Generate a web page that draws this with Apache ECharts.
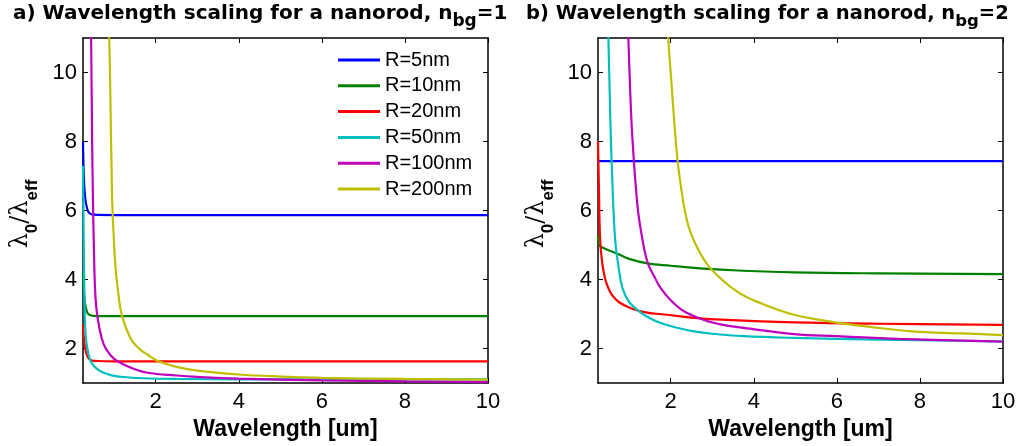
<!DOCTYPE html>
<html>
<head>
<meta charset="utf-8">
<script src="https://cdn.jsdelivr.net/npm/echarts@6/dist/echarts.min.js"></script>
<style>
  html, body { margin: 0; padding: 0; background: #fff; }
  #chart { width: 1021px; height: 446px; }
</style>
</head>
<body>
<div id="chart"></div>
<script>
// Series names (shared by both panels)
const radii = ['R=5nm', 'R=10nm', 'R=20nm', 'R=50nm', 'R=100nm', 'R=200nm'];
const colors = ['#0000ff', '#008000', '#ff0000', '#00bfbf', '#bf00bf', '#bfbf00'];

// Tick labels
const xTicks = [2, 4, 6, 8, 10];
const yTicks = [2, 4, 6, 8, 10];

// Panel a) n_bg = 1 : [wavelength (um), lambda0/lambda_eff]
const a5 = [[0.25, 8.0], [0.27, 7.0], [0.3, 6.4], [0.35, 6.05], [0.4, 5.93], [0.5, 5.88], [1, 5.87], [10, 5.87]];
const a10 = [[0.25, 4.2], [0.27, 3.7], [0.3, 3.3], [0.35, 3.05], [0.4, 2.98], [0.5, 2.95], [1, 2.94], [10, 2.94]];
const a20 = [[0.25, 2.7], [0.28, 2.2], [0.32, 1.9], [0.38, 1.72], [0.45, 1.66], [0.6, 1.64], [1, 1.63], [10, 1.63]];
const a50 = [[0.25, 7.3], [0.26, 6.0], [0.28, 3.8], [0.3, 2.7], [0.33, 2.2], [0.38, 1.85], [0.45, 1.6], [0.55, 1.45],
             [0.65, 1.36], [0.8, 1.28], [1.0, 1.21], [1.3, 1.17], [1.7, 1.14], [2.5, 1.12], [4, 1.11], [10, 1.11]];
const a100 = [[0.44, 11.5], [0.45, 10.5], [0.47, 8.0], [0.49, 6.3], [0.52, 4.5], [0.55, 3.5], [0.6, 2.9], [0.7, 2.3],
              [0.8, 2.0], [1.0, 1.7], [1.23, 1.54], [1.5, 1.4], [1.8, 1.3], [2.5, 1.22], [3, 1.18], [4, 1.13],
              [6, 1.08], [8, 1.05], [10, 1.03]];
const a200 = [[0.87, 11.5], [0.9, 10.0], [0.95, 6.4], [1.0, 5.0], [1.03, 4.4], [1.1, 3.6], [1.19, 2.94], [1.39, 2.31],
              [1.6, 2.0], [1.8, 1.83], [2.07, 1.63], [2.5, 1.47], [3.0, 1.36], [4.0, 1.25], [5, 1.19], [6, 1.15],
              [8, 1.12], [10, 1.1]];

// Panel b) n_bg = 2
const b5 = [[0.25, 7.43], [10, 7.43]];
const b10 = [[0.25, 5.3], [0.27, 5.0], [0.32, 4.95], [0.5, 4.85], [0.72, 4.75], [1.0, 4.6], [1.44, 4.47], [2.0, 4.4],
             [2.56, 4.34], [3.5, 4.27], [4.97, 4.21], [7, 4.18], [10, 4.16]];
const b20 = [[0.25, 8.0], [0.27, 6.8], [0.3, 5.2], [0.35, 4.5], [0.42, 4.03], [0.5, 3.75], [0.59, 3.55], [0.75, 3.35],
             [1.04, 3.17], [1.4, 3.05], [1.92, 2.98], [2.5, 2.9], [3.36, 2.83], [4.97, 2.76], [7, 2.72], [10, 2.69]];
const b50 = [[0.49, 11.5], [0.5, 11.0], [0.53, 9.5], [0.56, 8.06], [0.6, 6.7], [0.66, 5.2], [0.74, 4.4], [0.84, 3.75],
             [1.0, 3.35], [1.24, 3.08], [1.5, 2.88], [1.76, 2.74], [2.1, 2.62], [2.56, 2.5], [3, 2.43], [3.76, 2.36],
             [4.97, 2.31], [7, 2.26], [10, 2.21]];
const b100 = [[0.96, 11.5], [0.98, 11.0], [1.03, 9.3], [1.08, 8.06], [1.2, 6.14], [1.3, 5.3], [1.44, 4.51], [1.6, 4.1],
              [1.76, 3.75], [2.0, 3.4], [2.32, 3.08], [2.8, 2.83], [3.2, 2.7], [3.76, 2.6], [4.97, 2.42], [6, 2.36],
              [7.5, 2.28], [10, 2.2]];
const b200 = [[1.92, 11.5], [1.94, 11.0], [2.0, 10.0], [2.12, 8.06], [2.2, 7.1], [2.4, 5.67], [2.65, 4.9], [2.96, 4.32],
              [3.6, 3.65], [4.2, 3.3], [4.97, 2.98], [5.81, 2.79], [6.8, 2.63], [7.81, 2.5], [9, 2.44], [10, 2.39]];

const panelA = [a5, a10, a20, a50, a100, a200];
const panelB = [b5, b10, b20, b50, b100, b200];

const tickFont = 'Liberation Sans, Arial, sans-serif';
const titleFont = 'DejaVu Sans, sans-serif';

function bottomX(gridIndex) {
  return {
    type: 'value', gridIndex, min: 0.25, max: 10, position: 'bottom',
    axisLine: { onZero: false, lineStyle: { color: '#000', width: 1.5 } },
    axisTick: { inside: true, length: 5, customValues: xTicks, lineStyle: { color: '#000' } },
    axisLabel: { customValues: xTicks, color: '#000', fontFamily: tickFont, fontSize: 22, margin: 8 },
    splitLine: { show: false },
    name: 'Wavelength [um]', nameLocation: 'middle', nameGap: 30,
    nameTextStyle: { color: '#000', fontFamily: tickFont, fontWeight: 'bold', fontSize: 23 }
  };
}
function topX(gridIndex) {
  return {
    type: 'value', gridIndex, min: 0.25, max: 10, position: 'top',
    axisLine: { onZero: false, lineStyle: { color: '#000', width: 1.5 } },
    axisTick: { inside: true, length: 5, customValues: xTicks, lineStyle: { color: '#000' } },
    axisLabel: { show: false }, splitLine: { show: false }
  };
}
function leftY(gridIndex) {
  return {
    type: 'value', gridIndex, min: 1, max: 11, position: 'left',
    axisLine: { onZero: false, lineStyle: { color: '#000', width: 1.5 } },
    axisTick: { inside: true, length: 5, customValues: yTicks, lineStyle: { color: '#000' } },
    axisLabel: { customValues: yTicks, color: '#000', fontFamily: tickFont, fontSize: 22, margin: 6 },
    splitLine: { show: false }
  };
}
function rightY(gridIndex) {
  return {
    type: 'value', gridIndex, min: 1, max: 11, position: 'right',
    axisLine: { onZero: false, lineStyle: { color: '#000', width: 1.5 } },
    axisTick: { inside: true, length: 5, customValues: yTicks, lineStyle: { color: '#000' } },
    axisLabel: { show: false }, splitLine: { show: false }
  };
}

function lineSeries(data, i, axisIdx) {
  return {
    type: 'line', name: radii[i], data,
    xAxisIndex: axisIdx, yAxisIndex: axisIdx,
    showSymbol: false, symbol: 'none',
    smooth: 0.4,
    lineStyle: { color: colors[i], width: 2.2 },
    itemStyle: { color: colors[i] },
    clip: true, animation: false, z: 2 + i
  };
}

const series = [];
panelA.forEach((d, i) => series.push(lineSeries(d, i, 0)));
panelB.forEach((d, i) => series.push(lineSeries(d, i, 2)));

function titleRich(size) {
  return {
    m: { fontFamily: titleFont, fontWeight: 'bold', fontSize: size, color: '#000' },
    s: { fontFamily: titleFont, fontWeight: 'bold', fontSize: size - 3, color: '#000', verticalAlign: 'bottom', padding: [0, 0, -6, 0] }
  };
}
const yNameRich = {
  l: { fontFamily: 'DejaVu Serif, serif', fontSize: 24, color: '#000' },
  s: { fontFamily: tickFont, fontWeight: 'bold', fontSize: 17, color: '#000', verticalAlign: 'bottom', padding: [0, 0, -8, 0] }
};

function yName(x) {
  return {
    type: 'text', x, y: 214, rotation: Math.PI / 2,
    style: {
      text: '{l|λ}{s|0}{l|/λ}{s|eff}', rich: yNameRich,
      align: 'center', verticalAlign: 'middle'
    }
  };
}

const chart = echarts.init(document.getElementById('chart'), null, { renderer: 'canvas' });
chart.setOption({
  backgroundColor: '#fff',
  animation: false,
  title: [
    { text: '{m|a) Wavelength scaling for a nanorod, n}{s|bg}{m|=1}', left: 13, top: 4, padding: 0, textStyle: { rich: titleRich(20) } },
    { text: '{m|b) Wavelength scaling for a nanorod, n}{s|bg}{m|=2}', left: 526, top: 4, padding: 0, textStyle: { rich: titleRich(19.5) } }
  ],
  grid: [
    { left: 83, top: 38, width: 405, height: 347 },
    { left: 598, top: 38, width: 405, height: 347 }
  ],
  xAxis: [bottomX(0), topX(0), bottomX(1), topX(1)],
  yAxis: [leftY(0), rightY(0), leftY(1), rightY(1)],
  legend: {
    data: radii.map((name, i) => ({ name, icon: 'rect', itemStyle: { color: colors[i] } })),
    orient: 'vertical', left: 338, top: 50, padding: 0,
    itemWidth: 42, itemHeight: 3, itemGap: 5.8,
    textStyle: { fontFamily: tickFont, fontSize: 20, color: '#000' },
    selectedMode: false
  },
  graphic: [yName(21), yName(536.5)],
  series
});
</script>
</body>
</html>
